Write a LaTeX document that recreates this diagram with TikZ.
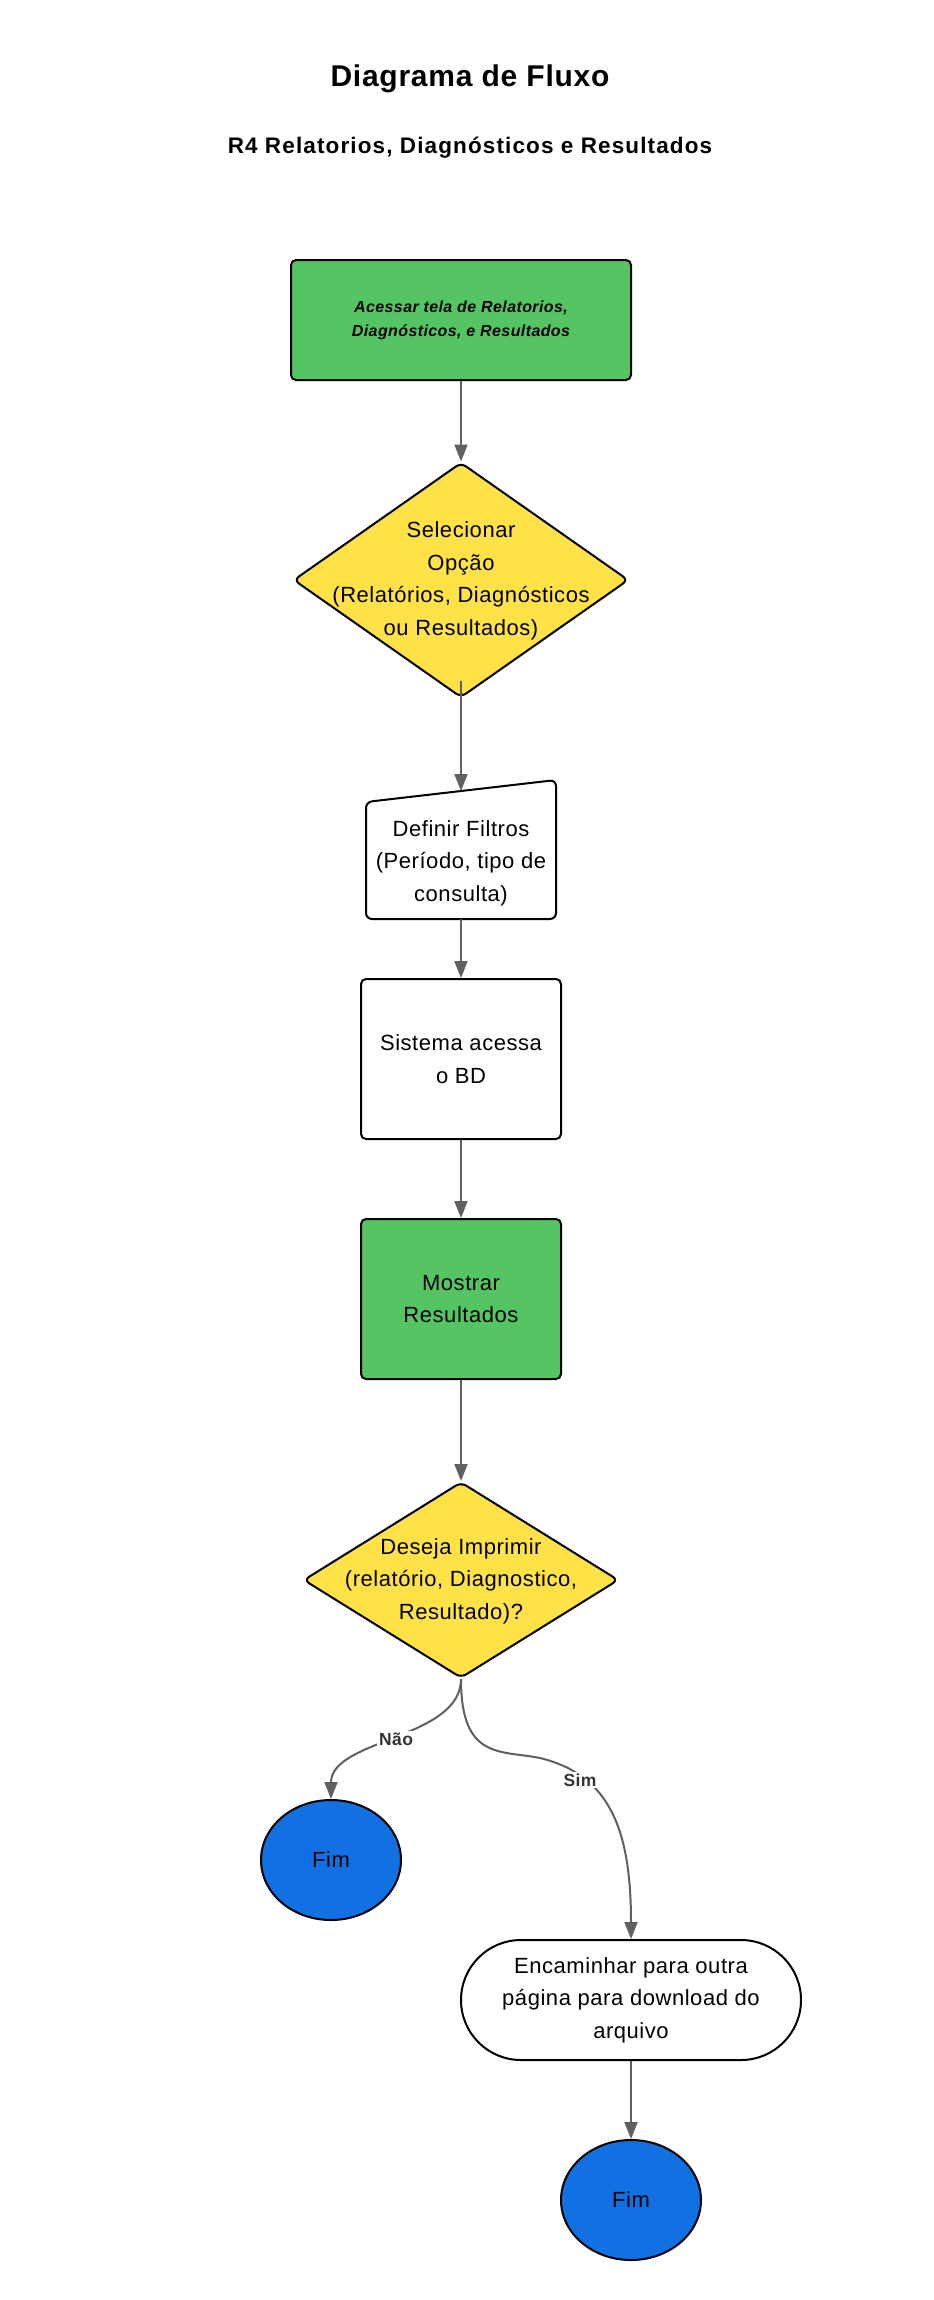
\documentclass[tikz,border=0pt]{standalone}
\usepackage{fontspec}
\setmainfont[LetterSpace=2.5]{Liberation Sans}
\newfontfamily\subfont[LetterSpace=5]{Liberation Sans}
\usetikzlibrary{shapes.geometric,arrows.meta}
\definecolor{boxgreen}{RGB}{85,196,98}
\definecolor{boxyellow}{RGB}{255,226,72}
\definecolor{boxblue}{RGB}{17,112,226}
\definecolor{linegray}{RGB}{96,96,96}
\definecolor{lblgray}{RGB}{51,51,51}
\tikzset{
  shapeline/.style={draw=black,line width=2pt},
  procbox/.style={shapeline,rectangle,rounded corners=5pt,inner sep=0pt,align=center,
    font=\fontsize{22}{32.5}\selectfont},
  decbox/.style={shapeline,diamond,fill=boxyellow,rounded corners=6pt,inner sep=0pt},
  dectext/.style={align=center,inner sep=0pt,font=\fontsize{22}{32.5}\selectfont},
  endcirc/.style={shapeline,ellipse,fill=boxblue,minimum width=140pt,minimum height=120pt,
    inner sep=0pt,font=\fontsize{22}{26}\selectfont},
  flow/.style={draw=linegray,line width=2pt,-{Triangle[length=17pt,width=13pt]}},
  lbl/.style={fill=white,inner sep=2pt,text=lblgray,font=\fontsize{17.5}{20}\selectfont\bfseries},
}
\begin{document}
\begin{tikzpicture}[x=1pt,y=-1pt]
\useasboundingbox[fill=white] (0,0) rectangle (934,2300);
% titles
\node[font=\fontsize{30}{36}\selectfont\bfseries] (title) at (470,79) {Diagrama de Fluxo};
\node[font=\subfont\fontsize{22.5}{28}\selectfont\bfseries] (subtitle) at (470,148) {R4 Relatorios, Diagnósticos e Resultados};
% nodes
\node[procbox,fill=boxgreen,minimum width=340pt,minimum height=120pt,
  font=\fontsize{16}{24}\selectfont\bfseries\itshape] (b1) at (461,320)
  {Acessar tela de Relatorios,\\Diagnósticos, e Resultados};
\node[decbox,minimum width=335pt,minimum height=235pt] (d1) at (461,580) {};
\node[dectext] (d1t) at (461,581) {Selecionar\\Opção\\(Relatórios, Diagnósticos\\ou Resultados)};
% manual input shape
\draw[shapeline,fill=white,rounded corners=6pt] (366,802) -- (556,780) -- (556,919) -- (366,919) -- cycle;
\coordinate (f1top) at (461,791);
\coordinate (f1bot) at (461,919);
\node[dectext] (f1) at (461,863) {Definir Filtros\\(Período, tipo de\\consulta)};
\node[procbox,fill=white,minimum width=200pt,minimum height=160pt] (s1) at (461,1059) {Sistema acessa\\o BD};
\node[procbox,fill=boxgreen,minimum width=200pt,minimum height=160pt] (m1) at (461,1299) {Mostrar\\Resultados};
\node[decbox,minimum width=315pt,minimum height=196pt] (d2) at (461,1580) {};
\node[dectext] (d2t) at (461,1581) {Deseja Imprimir\\(relatório, Diagnostico,\\Resultado)?};
\node[endcirc] (fim1) at (331,1860) {Fim};
\node[procbox,fill=white,rounded corners=60pt,minimum width=340pt,minimum height=120pt] (e1) at (631,2000)
  {Encaminhar para outra\\página para download do\\arquivo};
\node[endcirc] (fim2) at (631,2200) {Fim};
% connectors
\draw[flow] (b1.south) -- (d1.north);
\draw[flow] ([yshift=18pt]d1.south) -- (f1top);
\draw[flow] (f1bot) -- (s1.north);
\draw[flow] (s1.south) -- (m1.north);
\draw[flow] (m1.south) -- (d2.north);
\draw[flow] (d2.south) .. controls (461,1739) and (331,1739) .. (fim1.north);
\draw[flow] (d2.south) .. controls (461,1760) and (500,1750) .. (540,1758)
  .. controls (610,1775) and (631,1830) .. (e1.north);
\draw[flow] (e1.south) -- (fim2.north);
% labels
\node[lbl] (nao) at (396,1739) {Não};
\node[lbl] (sim) at (580,1780) {Sim};
\end{tikzpicture}
\end{document}
